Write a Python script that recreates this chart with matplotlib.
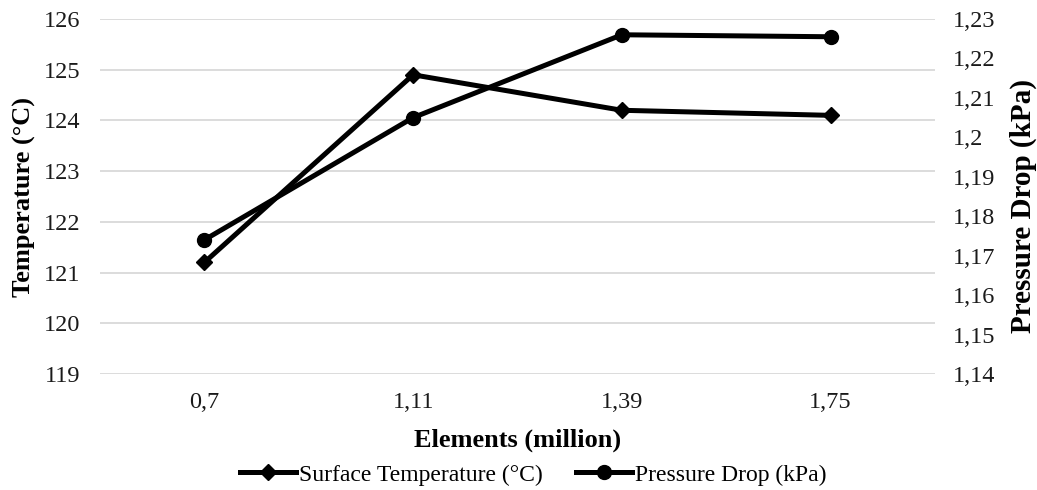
import matplotlib
matplotlib.use('Agg')
import matplotlib.pyplot as plt

# data
elements = ['0,7', '1,11', '1,39', '1,75']
temperature = [121.2, 124.9, 124.2, 124.1]
pressure = [1.174, 1.205, 1.226, 1.2255]

temp_ticks = [119, 120, 121, 122, 123, 124, 125, 126]
press_ticks = [1.14, 1.15, 1.16, 1.17, 1.18, 1.19, 1.20, 1.21, 1.22, 1.23]
press_labels = ['1,14', '1,15', '1,16', '1,17', '1,18', '1,19', '1,2', '1,21', '1,22', '1,23']

plt.rcParams['font.family'] = ['Liberation Serif', 'DejaVu Serif']
FS = 17.5
FS_LAB = 19
FS_LEG = 17

fig = plt.figure(figsize=(10.37, 4.90), dpi=100)
ax = fig.add_axes([100 / 1037, 1 - 374 / 490, 835 / 1037, 355 / 490])
ax2 = ax.twinx()

x = list(range(len(elements)))
l1, = ax.plot(x, temperature, color='black', lw=3.6, marker='D', ms=8.5,
              label='Surface Temperature (°C)')
l2, = ax2.plot(x, pressure, color='black', lw=3.6, marker='o', ms=10,
               label='Pressure Drop (kPa)')

ax.set_xlim(-0.5, len(elements) - 0.5)
ax.set_ylim(119, 126)
ax2.set_ylim(1.14, 1.23)

ax.set_xticks(x)
ax.set_xticklabels(elements)
ax.set_yticks(temp_ticks)
ax.set_yticklabels([str(t) for t in temp_ticks])
ax2.set_yticks(press_ticks)
ax2.set_yticklabels(press_labels)

ax.yaxis.grid(True, color='#d9d9d9', lw=1.3)
ax.set_axisbelow(True)
for a in (ax, ax2):
    for s in a.spines.values():
        s.set_visible(False)
    a.tick_params(length=0, labelsize=FS, colors='#1a1a1a')
ax.tick_params(axis='x', pad=13)
ax.tick_params(axis='y', pad=14)
ax2.tick_params(axis='y', pad=13)

ax.set_xlabel('Elements (million)', fontsize=FS_LAB, fontweight='bold', labelpad=11)
ax.set_ylabel('Temperature (°C)', fontsize=FS_LAB, fontweight='bold', labelpad=6)
ax2.set_ylabel('Pressure Drop (kPa)', fontsize=21, fontweight='bold', labelpad=10)
ax2.yaxis.label.set_y(0.473)

fig.legend(handles=[l1, l2], loc='center', bbox_to_anchor=(533 / 1037, 1 - 475 / 490),
           ncol=2, frameon=False, fontsize=FS_LEG, handlelength=2.4, handletextpad=0.1,
           columnspacing=1.4)

fig.savefig('out.png', dpi=100)
